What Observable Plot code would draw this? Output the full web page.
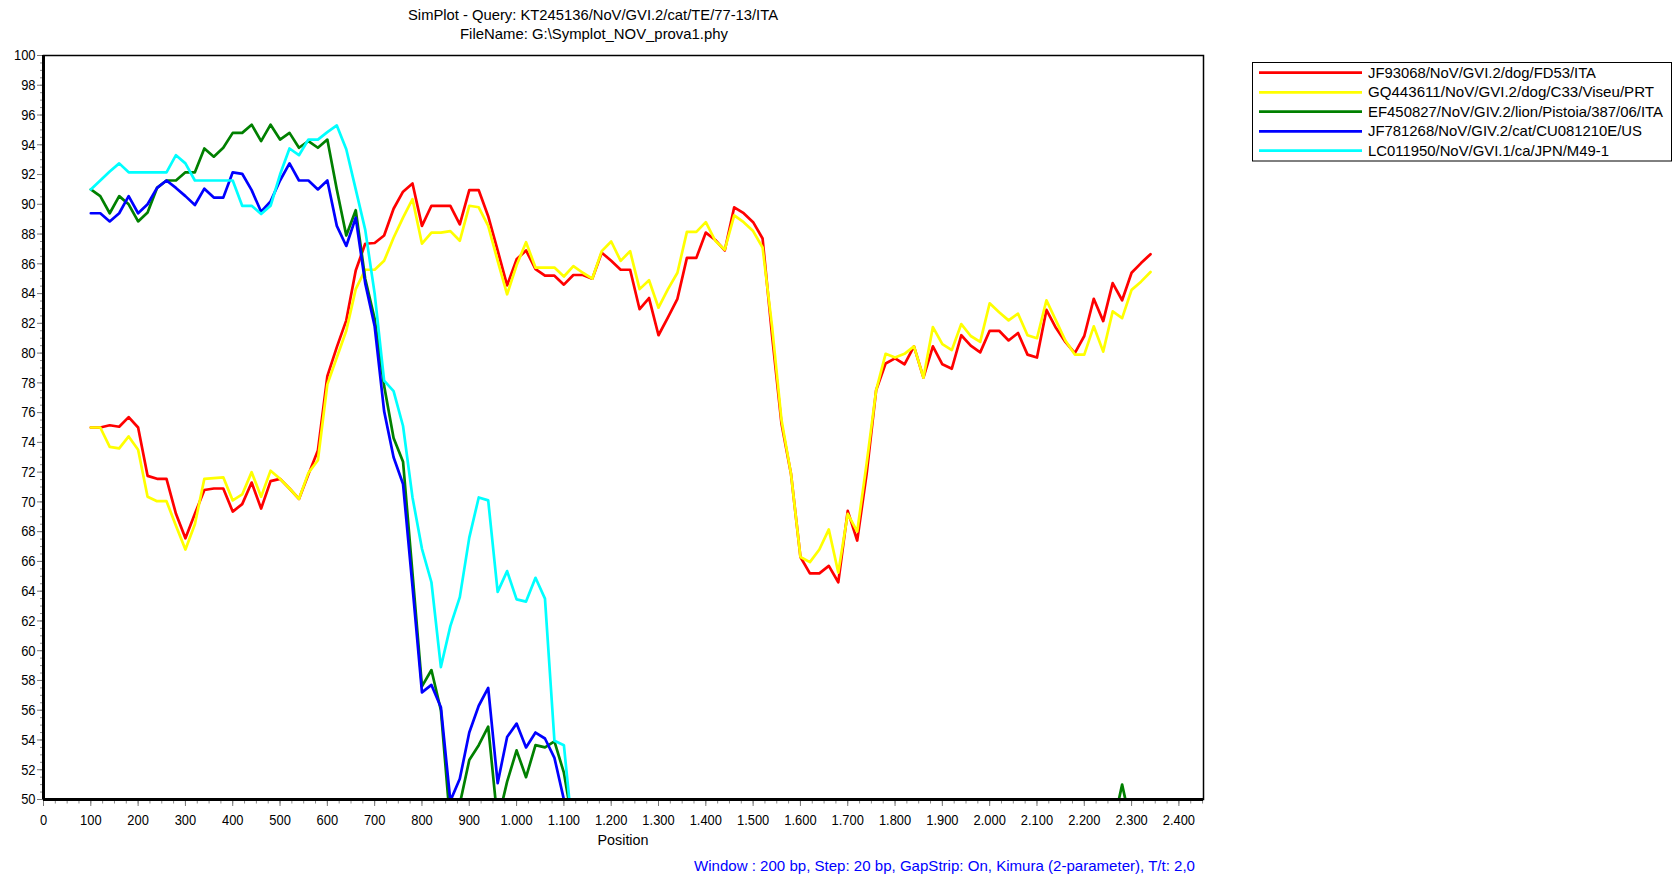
<!DOCTYPE html>
<html><head><meta charset="utf-8">
<script src="https://cdn.jsdelivr.net/npm/d3@7"></script>
<script src="https://cdn.jsdelivr.net/npm/@observablehq/plot@0.6"></script>
<style>
html,body{margin:0;padding:0;background:#fff;}
#wrap{position:relative;width:1676px;height:879px;overflow:hidden;background:#fff;}
#wrap svg{position:absolute;left:0;top:0;}
</style></head><body><div id="wrap"></div>
<script>
// ---- window centre positions (bp) ----
const positions = [
  100,120,140,160,180,200,220,240,260,280,
  300,320,340,360,380,400,420,440,460,480,
  500,520,540,560,580,600,620,640,660,680,
  700,720,740,760,780,800,820,840,860,880,
  900,920,940,960,980,1000,1020,1040,1060,1080,
  1100,1120,1140,1160,1180,1200,1220,1240,1260,1280,
  1300,1320,1340,1360,1380,1400,1420,1440,1460,1480,
  1500,1520,1540,1560,1580,1600,1620,1640,1660,1680,
  1700,1720,1740,1760,1780,1800,1820,1840,1860,1880,
  1900,1920,1940,1960,1980,2000,2020,2040,2060,2080,
  2100,2120,2140,2160,2180,2200,2220,2240,2260,2280,
  2300,2320,2340
];
const seriesNames = [
  "JF93068/NoV/GVI.2/dog/FD53/ITA",
  "GQ443611/NoV/GVI.2/dog/C33/Viseu/PRT",
  "EF450827/NoV/GIV.2/lion/Pistoia/387/06/ITA",
  "JF781268/NoV/GIV.2/cat/CU081210E/US",
  "LC011950/NoV/GVI.1/ca/JPN/M49-1"
];
const seriesColors = ["#ff0000", "#ffff00", "#008000", "#0000ff", "#00ffff"];

// similarity (%) per series
const simRed = [
  75.0,75.0,75.15,75.05,75.7,75.0,71.75,71.55,71.55,69.2,
  67.55,69.2,70.8,70.9,70.9,69.35,69.85,71.3,69.55,71.4,
  71.55,70.9,70.2,71.85,73.45,78.45,80.4,82.2,85.55,87.35,
  87.4,87.9,89.7,90.85,91.4,88.55,89.9,89.9,89.9,88.65,
  90.95,90.95,89.2,86.9,84.55,86.3,86.9,85.65,85.2,85.2,
  84.6,85.25,85.25,85.0,86.75,86.2,85.6,85.6,82.95,83.7,
  81.2,82.4,83.65,86.4,86.4,88.1,87.6,86.9,89.8,89.4,
  88.8,87.7,81.2,75.25,71.9,66.3,65.2,65.2,65.7,64.6,
  69.4,67.4,71.9,77.5,79.3,79.65,79.25,80.45,78.35,80.45,
  79.25,78.95,81.2,80.5,80.05,81.5,81.5,80.85,81.35,79.9,
  79.7,82.9,81.7,80.75,80.0,81.15,83.65,82.15,84.7,83.55,
  85.4,86.05,86.65
];
const simYellow = [
  75.0,75.0,73.7,73.6,74.4,73.5,70.35,70.05,70.05,68.4,
  66.8,68.5,71.55,71.6,71.65,70.1,70.5,72.0,70.35,72.1,
  71.55,70.9,70.2,71.95,72.8,77.9,79.7,81.5,84.3,85.6,
  85.6,86.2,87.75,89.1,90.35,87.35,88.1,88.1,88.2,87.55,
  89.9,89.8,88.55,86.2,83.95,85.9,87.45,85.75,85.75,85.75,
  85.15,85.85,85.4,85.0,86.85,87.5,86.2,86.85,84.3,84.9,
  83.05,84.3,85.4,88.15,88.15,88.8,87.55,86.95,89.25,88.8,
  88.2,87.1,81.8,75.5,71.9,66.3,65.95,66.8,68.15,65.25,
  69.2,68.0,72.6,77.5,79.95,79.7,79.95,80.45,78.35,81.75,
  80.6,80.2,81.95,81.15,80.75,83.35,82.75,82.2,82.65,81.2,
  81.0,83.55,82.2,80.85,79.9,79.9,81.8,80.1,82.8,82.35,
  84.25,84.8,85.45
];
// the next three fall below the 50% floor after ~1.120 bp (not readable there)
const simGreen = [
  91.0,90.55,89.4,90.55,90.0,88.85,89.45,91.1,91.6,91.6,
  92.15,92.15,93.75,93.2,93.8,94.8,94.8,95.35,94.25,95.35,
  94.35,94.8,93.8,94.25,93.8,94.35,91.0,87.9,89.6,85.0,
  82.3,77.8,74.3,72.7,65.2,57.6,58.7,56.0,48.3,49.7,
  52.65,53.65,54.9,48.5,51.2,53.3,51.5,53.65,53.5,53.9,
  51.8,48.1
];
const greenSpikePositions = [2260, 2280, 2300];
const greenSpikeSim = [48.1, 51.0, 48.1];
const simBlue = [
  89.4,89.4,88.85,89.4,90.55,89.4,90.0,91.1,91.6,91.1,
  90.55,89.95,91.05,90.45,90.45,92.15,92.05,90.95,89.5,90.2,
  91.6,92.75,91.6,91.6,91.0,91.6,88.55,87.2,89.1,84.7,
  81.8,76.1,73.0,71.2,64.3,57.2,57.7,56.2,49.9,51.4,
  54.5,56.3,57.5,51.1,54.2,55.1,53.5,54.5,54.1,52.8,
  50.0,46.0
];
const simCyan = [
  91.0,91.6,92.2,92.75,92.15,92.15,92.15,92.15,92.15,93.3,
  92.75,91.6,91.6,91.6,91.6,91.6,89.9,89.9,89.35,89.9,
  92.0,93.75,93.3,94.35,94.35,94.85,95.3,93.7,91.0,88.3,
  84.0,78.15,77.45,75.1,70.3,66.85,64.6,58.9,61.65,63.6,
  67.6,70.3,70.1,63.95,65.35,63.45,63.3,64.9,63.5,53.95,
  53.65,47.3
];

const xTicks = [0,100,200,300,400,500,600,700,800,900,1000,1100,1200,1300,1400,1500,1600,1700,1800,1900,2000,2100,2200,2300,2400];
const xTickLabels = ["0","100","200","300","400","500","600","700","800","900","1.000","1.100","1.200","1.300","1.400","1.500","1.600","1.700","1.800","1.900","2.000","2.100","2.200","2.300","2.400"];
const yTicks = [50,52,54,56,58,60,62,64,66,68,70,72,74,76,78,80,82,84,86,88,90,92,94,96,98,100];
const yTickLabels = ["50","52","54","56","58","60","62","64","66","68","70","72","74","76","78","80","82","84","86","88","90","92","94","96","98","100"];
const titleLines = ["SimPlot - Query: KT245136/NoV/GVI.2/cat/TE/77-13/ITA", "FileName: G:\\Symplot_NOV_prova1.phy"];
const xLabel = "Position";
const captionText = "Window : 200 bp, Step: 20 bp, GapStrip: On, Kimura (2-parameter), T/t: 2,0";

// ---- build long table ----
const seriesValues = [simRed, simYellow, simGreen, simBlue, simCyan];
const table = [];
seriesNames.forEach((name, i) => {
  seriesValues[i].forEach((v, j) => table.push({series: name, seg: name, pos: positions[j], sim: v}));
});
const spike = greenSpikePositions.map((p, j) => ({series: seriesNames[2], seg: "spike", pos: p, sim: greenSpikeSim[j]}));

const FONT = "'Liberation Sans', Arial, sans-serif";
const xMinor = d3.range(0, 2451, 25);
const yMinor = d3.range(50, 100.001, 0.5);

const chart = Plot.plot({
  width: 1676, height: 879,
  marginLeft: 43, marginRight: 473, marginTop: 55, marginBottom: 80,
  style: {fontFamily: FONT, fontSize: "14px", color: "black", background: "white", overflow: "visible"},
  x: {domain: [0, 2452]},
  y: {domain: [50, 100]},
  color: {domain: seriesNames, range: seriesColors},
  marks: [
    Plot.axisY({ticks: yMinor, tickSize: 3, fill: "none", stroke: "#8a8a8a", label: null}),
    Plot.axisY({ticks: yTicks, tickSize: 6, tickPadding: 2, stroke: "#777", fill: "black", label: null, fontSize: 15,
      tickFormat: d => yTickLabels[yTicks.indexOf(d)]}),
    Plot.axisX({ticks: xMinor, tickSize: 4.5, fill: "none", stroke: "#8a8a8a", label: null}),
    Plot.axisX({ticks: xTicks, tickSize: 7, tickPadding: 8, stroke: "#777", fill: "black", label: null, fontSize: 15,
      tickFormat: d => xTickLabels[xTicks.indexOf(d)]}),
    Plot.line(table, {x: "pos", y: "sim", z: "seg", stroke: "series", strokeWidth: 2.7, clip: true}),
    Plot.line(spike, {x: "pos", y: "sim", stroke: "series", strokeWidth: 2.7, clip: true}),
    Plot.frame({stroke: "black", strokeWidth: 1.5}),
    Plot.ruleX([0], {stroke: "black", strokeWidth: 3}),
    Plot.ruleY([50], {stroke: "black", strokeWidth: 3})
  ]
});
document.getElementById("wrap").appendChild(chart);

// narrower tick-label glyphs, like the original condensed face
d3.select(chart).selectAll("g[aria-label$='tick label'] text").each(function() {
  const w = this.getComputedTextLength();
  if (w > 0) {
    this.setAttribute("textLength", (w * 0.86).toFixed(2));
    this.setAttribute("lengthAdjust", "spacingAndGlyphs");
  }
});

// ---- overlay: title, axis label, caption, legend ----
const ov = d3.select("#wrap").append("svg")
  .attr("width", 1676).attr("height", 879)
  .style("font-family", FONT).style("font-size", "14.5px");

function txt(x, y, s, anchor, width, fill) {
  const t = ov.append("text").attr("x", x).attr("y", y).attr("text-anchor", anchor)
    .attr("fill", fill || "black").text(s);
  if (width) t.attr("textLength", width).attr("lengthAdjust", "spacingAndGlyphs");
  return t;
}
txt(593, 20, titleLines[0], "middle", 370);
txt(594, 39, titleLines[1], "middle", 268);
txt(623, 845, xLabel, "middle", 51);
txt(694, 871, captionText, "start", 501, "#0000ff");

ov.append("rect").attr("x", 1252.5).attr("y", 62.5).attr("width", 419).attr("height", 98.5)
  .attr("fill", "white").attr("stroke", "black").attr("stroke-width", 1);
const legendRowY = [72.7, 92.3, 111.7, 131.3, 150.7];
const legendTextW = [228, 286, 295, 274, 241];
seriesNames.forEach((name, i) => {
  ov.append("line").attr("x1", 1259).attr("x2", 1362).attr("y1", legendRowY[i]).attr("y2", legendRowY[i])
    .attr("stroke", seriesColors[i]).attr("stroke-width", 2.7);
  txt(1368, legendRowY[i] + 5, name, "start", legendTextW[i]);
});
</script></body></html>
